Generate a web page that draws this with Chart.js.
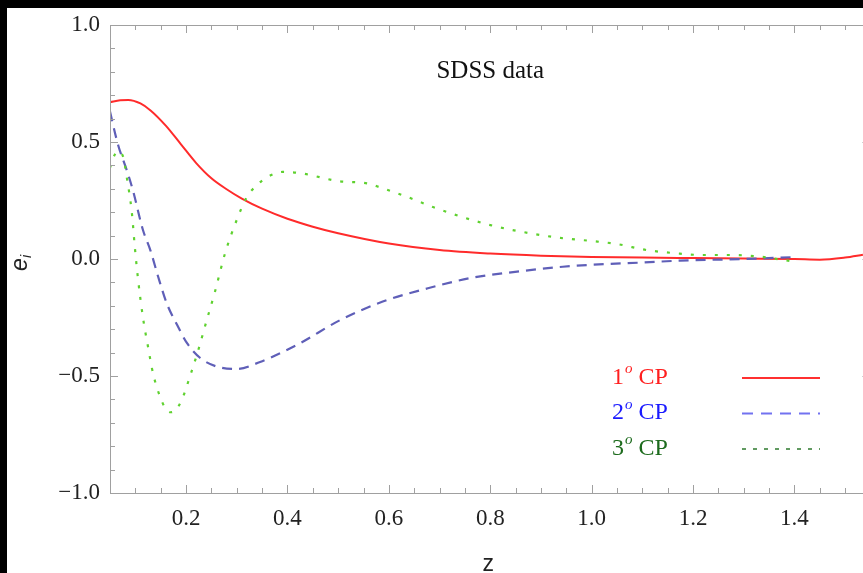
<!DOCTYPE html>
<html>
<head>
<meta charset="utf-8">
<script src="https://cdn.jsdelivr.net/npm/chart.js@4.4.1/dist/chart.umd.min.js"></script>
<style>
  html, body { margin: 0; padding: 0; background: #000; overflow: hidden; width: 863px; height: 573px; }
  #wrap { position: absolute; left: 7px; top: 8px; width: 883px; height: 565px; background: #fff; }
</style>
</head>
<body>
<div id="wrap"><canvas id="chart" width="883" height="565"></canvas></div>
<script>
// 1st CP (solid red)
const zRed = [0.05, 0.07, 0.086, 0.11, 0.13, 0.16, 0.19, 0.22, 0.25, 0.28, 0.31, 0.35, 0.4, 0.45, 0.5, 0.6, 0.7, 0.8, 0.9, 1.0, 1.1, 1.2, 1.3, 1.4, 1.45, 1.5, 1.535];
const red = [0.67, 0.678, 0.68, 0.665, 0.635, 0.57, 0.49, 0.41, 0.345, 0.298, 0.258, 0.215, 0.172, 0.138, 0.11, 0.066, 0.038, 0.023, 0.014, 0.009, 0.006, 0.004, 0.002, 0.0, -0.003, 0.006, 0.018];

// 2nd CP (dashed blue)
const zBlue = [0.05, 0.066, 0.083, 0.095, 0.115, 0.13, 0.145, 0.162, 0.182, 0.202, 0.228, 0.261, 0.3, 0.346, 0.391, 0.425, 0.504, 0.588, 0.677, 0.764, 0.853, 0.943, 0.99, 1.1, 1.174, 1.3, 1.4];
const blue = [0.63, 0.487, 0.38, 0.295, 0.124, 0.035, -0.076, -0.19, -0.28, -0.36, -0.423, -0.46, -0.47, -0.44, -0.397, -0.36, -0.261, -0.182, -0.125, -0.08, -0.054, -0.033, -0.026, -0.015, -0.007, 0.0, 0.008];

// 3rd CP (dotted green)
const zGreen = [0.05, 0.056, 0.065, 0.076, 0.083, 0.093, 0.099, 0.105, 0.115, 0.125, 0.135, 0.149, 0.16, 0.17, 0.18, 0.192, 0.208, 0.224, 0.241, 0.257, 0.277, 0.3, 0.32, 0.34, 0.36, 0.39, 0.425, 0.5, 0.557, 0.583, 0.611, 0.638, 0.687, 0.744, 0.8, 0.853, 0.938, 1.0, 1.05, 1.109, 1.164, 1.22, 1.277, 1.332, 1.39];
const green = [0.39, 0.43, 0.46, 0.436, 0.35, 0.2, 0.05, -0.08, -0.25, -0.375, -0.49, -0.59, -0.64, -0.655, -0.645, -0.6, -0.5, -0.39, -0.26, -0.14, 0.025, 0.167, 0.265, 0.316, 0.35, 0.372, 0.367, 0.333, 0.323, 0.306, 0.285, 0.264, 0.222, 0.18, 0.145, 0.12, 0.09, 0.077, 0.064, 0.038, 0.025, 0.017, 0.017, 0.01, -0.008];

const xTicks = [0.2, 0.4, 0.6, 0.8, 1.0, 1.2, 1.4];
const yTicks = [-1.0, -0.5, 0.0, 0.5, 1.0];

const legendItems = [
    { num: '1', text: 'CP', color: '#ff1f1f', line: '#ff3030', dash: [], width: 2 },
    { num: '2', text: 'CP', color: '#1a1aff', line: '#7272f0', dash: [11, 8], width: 2.2 },
    { num: '3', text: 'CP', color: '#1d6b1d', line: '#2e7a2e', dash: [4, 7], width: 1.5 }
];

const pts = (xs, ys) => xs.map((x, i) => ({ x: x, y: ys[i] }));

const serif = '"Liberation Serif", "Times New Roman", serif';

// frame, minor ticks, annotation text and legend
const decor = {
    id: 'decor',
    afterDraw(chart) {
        const ctx = chart.ctx;
        const a = chart.chartArea;
        const xs = chart.scales.x, ys = chart.scales.y;
        ctx.save();
        ctx.strokeStyle = '#a0a0a0';
        ctx.lineWidth = 1;
        ctx.beginPath();
        ctx.rect(Math.round(a.left) + 0.5, Math.round(a.top) + 0.5, a.right - a.left, a.bottom - a.top);
        ctx.stroke();

        ctx.beginPath();
        for (let k = 0; k <= 30; k++) {
            const v = 0.05 + k * 0.05;
            const major = Math.abs(Math.round(v * 5) - v * 5) < 1e-6;
            const len = major ? 8 : 5;
            const px = Math.round(xs.getPixelForValue(v)) + 0.5;
            ctx.moveTo(px, a.bottom); ctx.lineTo(px, a.bottom - len);
            ctx.moveTo(px, a.top); ctx.lineTo(px, a.top + len);
        }
        for (let k = -10; k <= 10; k++) {
            const v = k / 10;
            const len = (k % 5 === 0) ? 8 : 5;
            const py = Math.round(ys.getPixelForValue(v)) + 0.5;
            ctx.moveTo(a.left, py); ctx.lineTo(a.left + len, py);
            ctx.moveTo(a.right, py); ctx.lineTo(a.right - len, py);
        }
        ctx.stroke();

        // annotation
        ctx.fillStyle = '#111';
        ctx.font = '25px ' + serif;
        ctx.textAlign = 'center';
        ctx.textBaseline = 'middle';
        ctx.fillText('SDSS data', xs.getPixelForValue(0.8), ys.getPixelForValue(0.8));

        // axis titles
        ctx.font = '23px "Liberation Sans", Arial, sans-serif';
        ctx.fillStyle = '#222';
        ctx.fillText('z', (a.left + a.right) / 2 - 2, 557);
        ctx.save();
        ctx.translate(14, ys.getPixelForValue(0) + 4);
        ctx.rotate(-Math.PI / 2);
        ctx.textAlign = 'left';
        ctx.font = 'italic 23px "Liberation Sans", Arial, sans-serif';
        ctx.fillText('e', -8, 0);
        ctx.font = 'italic 14px "Liberation Sans", Arial, sans-serif';
        ctx.fillText('i', 5, 6);
        ctx.restore();

        // legend
        legendItems.forEach((it, i) => {
            const y = 369.5 + i * 35.5;
            let x = 605;
            ctx.textAlign = 'left';
            ctx.textBaseline = 'middle';
            ctx.fillStyle = it.color;
            ctx.font = '24px ' + serif;
            ctx.fillText(it.num, x, y);
            x += ctx.measureText(it.num).width + 1;
            ctx.font = 'italic 15px ' + serif;
            ctx.fillText('o', x, y - 8);
            x += ctx.measureText('o').width + 6;
            ctx.font = '24px ' + serif;
            ctx.fillText(it.text, x, y);

            ctx.strokeStyle = it.line;
            ctx.lineWidth = it.width;
            ctx.setLineDash(it.dash);
            ctx.beginPath();
            ctx.moveTo(735, y + 0.5);
            ctx.lineTo(813, y + 0.5);
            ctx.stroke();
            ctx.setLineDash([]);
        });
        ctx.restore();
    }
};

new Chart(document.getElementById('chart'), {
    type: 'scatter',
    data: {
        datasets: [
            { label: '3o CP', data: pts(zGreen, green), showLine: true, borderColor: '#5fd12f', borderWidth: 2.2, borderDash: [3, 9], pointRadius: 0, cubicInterpolationMode: 'monotone' },
            { label: '2o CP', data: pts(zBlue, blue), showLine: true, borderColor: '#5f5fb8', borderWidth: 2.2, borderDash: [10, 7], pointRadius: 0, cubicInterpolationMode: 'monotone' },
            { label: '1o CP', data: pts(zRed, red), showLine: true, borderColor: '#ff2b2b', borderWidth: 2, pointRadius: 0, cubicInterpolationMode: 'monotone' }
        ]
    },
    options: {
        responsive: false,
        animation: false,
        layout: { padding: { left: 0, top: 17, right: 19.5, bottom: 0 } },
        plugins: { legend: { display: false }, tooltip: { enabled: false } },
        scales: {
            x: {
                type: 'linear', min: 0.05, max: 1.55,
                grid: { display: false }, border: { display: false },
                afterBuildTicks: s => { s.ticks = xTicks.map(v => ({ value: v })); },
                afterFit: s => { s.height = 80; },
                ticks: { color: '#222', padding: 4, font: { family: serif, size: 23 }, maxRotation: 0, callback: v => v.toFixed(1) }
            },
            y: {
                type: 'linear', min: -1, max: 1,
                grid: { display: false }, border: { display: false },
                afterBuildTicks: s => { s.ticks = yTicks.map(v => ({ value: v })); },
                afterFit: s => { s.width = 103; },
                ticks: { color: '#222', padding: 2, font: { family: serif, size: 23 }, callback: v => (v < 0 ? '\u2212' : '') + Math.abs(v).toFixed(1) }
            }
        }
    },
    plugins: [decor]
});
</script>
</body>
</html>
